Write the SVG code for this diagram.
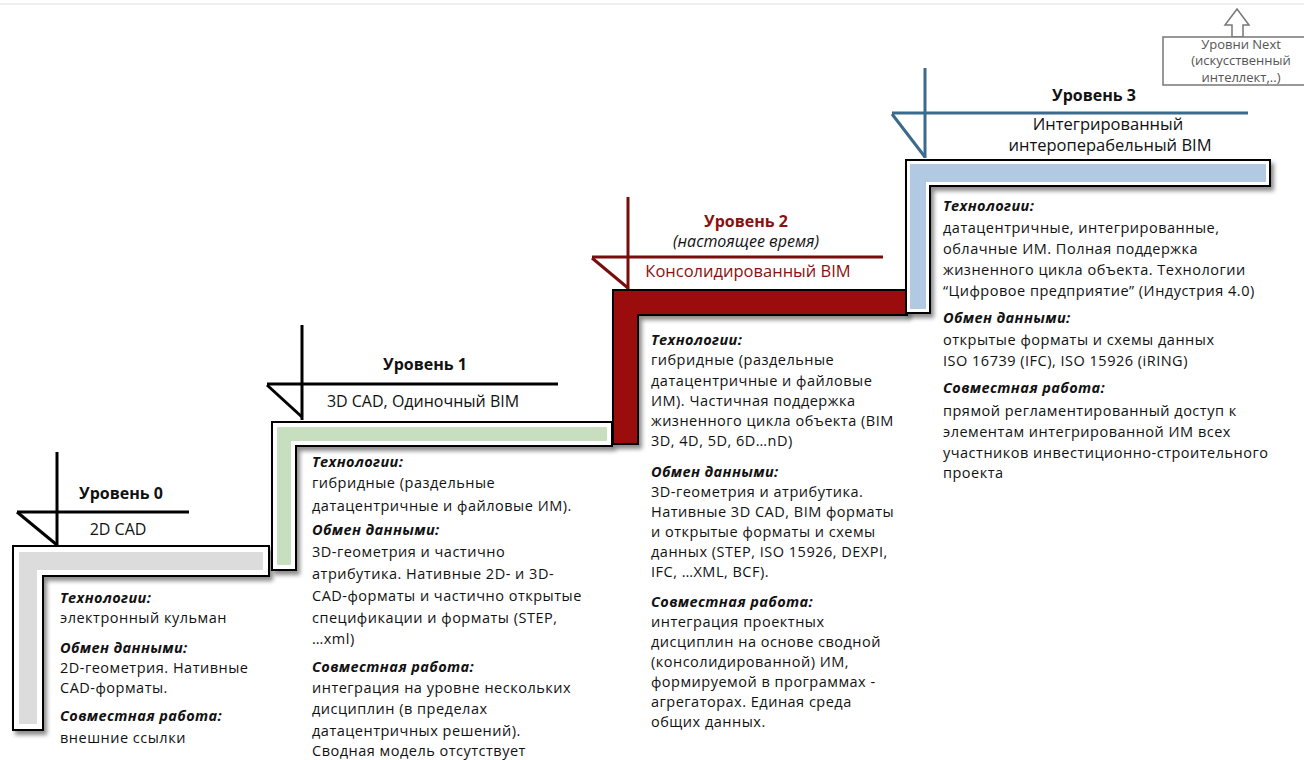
<svg xmlns="http://www.w3.org/2000/svg" width="1304" height="760" viewBox="0 0 1304 760">
<defs>
<filter id="sh" x="-10%" y="-10%" width="130%" height="130%">
<feDropShadow dx="3" dy="4" stdDeviation="2" flood-color="#000" flood-opacity="0.45"/>
</filter>
<style>
text{font-family:"Open Sans","DejaVu Sans",sans-serif;fill:#111;}
.b{font-size:14.5px;letter-spacing:0.5px;}
.h{font-size:14.5px;letter-spacing:0.4px;font-weight:bold;font-style:italic;}
.lv{font-size:16px;font-weight:bold;text-anchor:middle;}
.sub{font-size:16px;text-anchor:middle;}
.sub2{font-size:16.5px;text-anchor:middle;}
.mk{fill:none;stroke-width:3;stroke-linecap:butt;}
.out{stroke:#000;stroke-width:2;}
.nx{font-size:13px;fill:#555;text-anchor:middle;}
</style>
</defs>
<rect width="1304" height="760" fill="#fff"/>
<line x1="0" y1="4" x2="1304" y2="4" stroke="#eeeeee" stroke-width="2"/>

<g id="connectors">
<path d="M1237,9 L1249,25 L1243,25 L1243,37 L1232,37 L1232,25 L1225,25 Z" fill="#fff" stroke="#777" stroke-width="1.5"/>
</g>

<g id="level-next">
<rect x="1163" y="37" width="145" height="48" fill="#fff" stroke="#777" stroke-width="1.5"/>
<text class="nx" x="1241" y="49">Уровни Next</text>
<text class="nx" x="1241" y="65">(искусственный</text>
<text class="nx" x="1241" y="82">интеллект,..)</text>
</g>

<g id="level0">
<path class="out" d="M13,546 H269 V576 H43 V730 H13 Z" fill="#fff" filter="url(#sh)"/>
<path d="M19,552 H263 V570 H37 V724 H19 Z" fill="#dcdcdc"/>
<g class="mk" stroke="#000">
<line x1="57" y1="452" x2="57" y2="546"/>
<line x1="17" y1="512" x2="189" y2="512"/>
<line x1="17" y1="512" x2="57" y2="545"/>
</g>
<text class="lv" x="121" y="499">Уровень 0</text>
<text class="sub" x="118" y="535">2D CAD</text>
<text class="h" x="60" y="603">Технологии:</text>
<text class="b" x="60" y="623">электронный кульман</text>
<text class="h" x="60" y="653">Обмен данными:</text>
<text class="b" x="60" y="673">2D-геометрия. Нативные</text>
<text class="b" x="60" y="693">CAD-форматы.</text>
<text class="h" x="60" y="721">Совместная работа:</text>
<text class="b" x="60" y="743">внешние ссылки</text>
</g>

<g id="level1">
<path class="out" d="M272,422 H612 V446 H296 V570 H272 Z" fill="#fff" filter="url(#sh)"/>
<path d="M278,428 H606 V440 H290 V564 H278 Z" fill="#c8dfbf" stroke="#c8dfbf" stroke-width="2" stroke-linejoin="round"/>
<g class="mk" stroke="#000">
<line x1="302" y1="325" x2="302" y2="420"/>
<line x1="267" y1="384" x2="558" y2="384"/>
<line x1="267" y1="385" x2="302" y2="417"/>
</g>
<text class="lv" x="425" y="370">Уровень 1</text>
<text class="sub" x="423" y="407">3D CAD,  Одиночный BIM</text>
<text class="h" x="312" y="467">Технологии:</text>
<text class="b" x="312" y="488">гибридные (раздельные</text>
<text class="b" x="312" y="511">датацентричные  и файловые ИМ).</text>
<text class="h" x="312" y="535">Обмен данными:</text>
<text class="b" x="312" y="557">3D-геометрия  и частично</text>
<text class="b" x="312" y="579">атрибутика. Нативные 2D- и 3D-</text>
<text class="b" x="312" y="601">CAD-форматы и частично открытые</text>
<text class="b" x="312" y="623">спецификации и форматы (STEP,</text>
<text class="b" x="312" y="644">…xml)</text>
<text class="h" x="312" y="672">Совместная  работа:</text>
<text class="b" x="312" y="693">интеграция на уровне нескольких</text>
<text class="b" x="312" y="714">дисциплин (в пределах</text>
<text class="b" x="312" y="736">датацентричных решений).</text>
<text class="b" x="312" y="756">Сводная модель отсутствует</text>
</g>

<g id="level2">
<path class="out" d="M613,290 H907 V315 H638 V444 H613 Z" fill="#9b0b0b" filter="url(#sh)"/>
<g class="mk" stroke="#7a0c0c">
<line x1="628" y1="197" x2="628" y2="289"/>
<line x1="592" y1="257" x2="883" y2="257"/>
<line x1="592" y1="258" x2="628" y2="288"/>
</g>
<text class="lv" x="746" y="227" style="fill:#8b1010">Уровень 2</text>
<text class="sub" x="746" y="247" style="font-style:italic">(настоящее время)</text>
<text class="sub2" x="748" y="277" style="fill:#8b1010">Консолидированный BIM</text>
<text class="h" x="651" y="345">Технологии:</text>
<text class="b" x="651" y="365">гибридные (раздельные</text>
<text class="b" x="651" y="386">датацентричные  и файловые</text>
<text class="b" x="651" y="406">ИМ).  Частичная поддержка</text>
<text class="b" x="651" y="426">жизненного цикла объекта (BIM</text>
<text class="b" x="651" y="446">3D, 4D, 5D, 6D…nD)</text>
<text class="h" x="651" y="477">Обмен данными:</text>
<text class="b" x="651" y="497">3D-геометрия  и атрибутика.</text>
<text class="b" x="651" y="517">Нативные 3D CAD, BIM форматы</text>
<text class="b" x="651" y="537">и открытые форматы и схемы</text>
<text class="b" x="651" y="557">данных (STEP, ISO 15926, DEXPI,</text>
<text class="b" x="651" y="577">IFC, …XML, BCF).</text>
<text class="h" x="651" y="607">Совместная  работа:</text>
<text class="b" x="651" y="627">интеграция проектных</text>
<text class="b" x="651" y="647">дисциплин на основе сводной</text>
<text class="b" x="651" y="667">(консолидированной) ИМ,</text>
<text class="b" x="651" y="687">формируемой в программах -</text>
<text class="b" x="651" y="707">агрегаторах. Единая среда</text>
<text class="b" x="651" y="727">общих данных.</text>
</g>

<g id="level3">
<path class="out" d="M906,160 H1270 V186 H930 V313 H906 Z" fill="#fff" filter="url(#sh)"/>
<path d="M910,164 H1266 V182 H926 V309 H910 Z" fill="#b1c9e3"/>
<g class="mk" stroke="#3b6b8c">
<line x1="925" y1="68" x2="925" y2="158"/>
<line x1="892" y1="113" x2="1248" y2="113"/>
<line x1="892" y1="114" x2="925" y2="157"/>
</g>
<text class="lv" x="1094" y="101">Уровень 3</text>
<text class="sub2" x="1108" y="130">Интегрированный</text>
<text class="sub2" x="1110" y="151">интероперабельный  BIM</text>
<text class="h" x="943" y="211">Технологии:</text>
<text class="b" x="943" y="233">датацентричные,  интегрированные,</text>
<text class="b" x="943" y="254">облачные ИМ. Полная поддержка</text>
<text class="b" x="943" y="275">жизненного цикла объекта.  Технологии</text>
<text class="b" x="943" y="296">“Цифровое предприятие”  (Индустрия 4.0)</text>
<text class="h" x="943" y="323">Обмен данными:</text>
<text class="b" x="943" y="345">открытые форматы и схемы данных</text>
<text class="b" x="943" y="366">ISO 16739 (IFC), ISO 15926 (iRING)</text>
<text class="h" x="943" y="393">Совместная  работа:</text>
<text class="b" x="943" y="416">прямой регламентированный  доступ к</text>
<text class="b" x="943" y="437">элементам интегрированной ИМ всех</text>
<text class="b" x="943" y="458">участников инвестиционно-строительного</text>
<text class="b" x="943" y="478">проекта</text>
</g>
</svg>
